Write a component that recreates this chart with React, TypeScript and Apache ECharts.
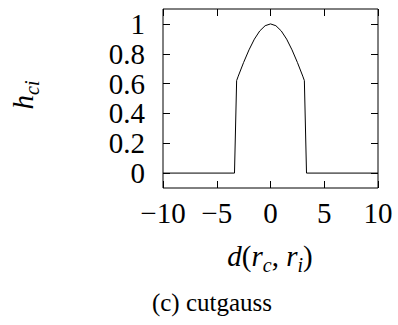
import React, { useEffect, useRef } from "react";
import * as echarts from "echarts";

const distances = [-10, -3.35, -3.15, -3.0, -2.5, -2.0, -1.5, -1.0, -0.5, 0, 0.5, 1.0, 1.5, 2.0, 2.5, 3.0, 3.15, 3.35, 10];
const weights = [0, 0, 0.62, 0.65, 0.742, 0.826, 0.898, 0.953, 0.988, 1.0, 0.988, 0.953, 0.898, 0.826, 0.742, 0.65, 0.62, 0, 0];
const yTicks = [0, 0.2, 0.4, 0.6, 0.8, 1];
const yTickLabels = ["0", "0.2", "0.4", "0.6", "0.8", "1"];
const caption = "(c) cutgauss";

const FONT = "'Liberation Serif', 'Times New Roman', serif";
const FS = 29;

export default function App() {
  const ref = useRef<HTMLDivElement>(null);
  useEffect(() => {
    document.body.style.margin = "0";
    if (!ref.current) return;
    const chart = echarts.init(ref.current, undefined, { renderer: "svg" });
    const labelStyle = { fontFamily: FONT, fontSize: FS, color: "#000" };
    const tick = { show: true, inside: true, length: 7, lineStyle: { color: "#000", width: 1 } };
    const itRich = { fontFamily: FONT, fontSize: FS, fontStyle: "italic", lineHeight: 33, verticalAlign: "top", fill: "#000" };
    const subRich = { fontFamily: FONT, fontSize: 20, fontStyle: "italic", lineHeight: 33, verticalAlign: "bottom", fill: "#000" };
    const rmRich = { fontFamily: FONT, fontSize: FS, lineHeight: 33, verticalAlign: "top", fill: "#000" };
    const option: any = {
      animation: false,
      grid: { left: 163, right: 20, top: 9, bottom: 137, show: true, borderColor: "#000", borderWidth: 1, backgroundColor: "transparent" },
      xAxis: [
        {
          type: "value", min: -10, max: 10, interval: 5, position: "bottom",
          axisLine: { show: false, onZero: false }, splitLine: { show: false }, axisTick: tick,
          axisLabel: { ...labelStyle, margin: 10, formatter: (v: number) => String(v).replace("-", "\u2212") },
        },
        {
          type: "value", min: -10, max: 10, interval: 5, position: "top",
          axisLine: { show: false, onZero: false }, splitLine: { show: false }, axisTick: tick, axisLabel: { show: false },
        },
      ],
      yAxis: [
        {
          type: "value", min: -0.1, max: 1.1, position: "left",
          axisLine: { show: false, onZero: false }, splitLine: { show: false },
          axisTick: { ...tick, customValues: yTicks },
          axisLabel: { ...labelStyle, margin: 18, customValues: yTicks, formatter: (v: number) => yTickLabels[yTicks.findIndex((t) => Math.abs(t - v) < 1e-9)] ?? "" },
        },
        {
          type: "value", min: -0.1, max: 1.1, position: "right",
          axisLine: { show: false, onZero: false }, splitLine: { show: false },
          axisTick: { ...tick, customValues: yTicks }, axisLabel: { show: false },
        },
      ],
      series: [
        {
          type: "line", xAxisIndex: 0, yAxisIndex: 0, showSymbol: false, symbol: "none",
          lineStyle: { color: "#000", width: 1 },
          data: distances.map((d, i) => [d, weights[i]]),
        },
      ],
      graphic: [
        {
          type: "text", x: 270, y: 258.2,
          style: {
            text: "{it|d}{rm|(}{it|r}{sub|c}{rm|, }{it|r}{sub|i}{rm|)}",
            rich: { it: itRich, sub: subRich, rm: rmRich },
            align: "center", verticalAlign: "middle",
          },
        },
        {
          type: "text", x: 25, y: 95, rotation: Math.PI / 2,
          style: {
            text: "{it|h}{sub|ci}",
            rich: { it: itRich, sub: subRich },
            align: "center", verticalAlign: "middle",
          },
        },
        {
          type: "text", x: 212, y: 302.5,
          style: { text: caption, fontFamily: FONT, fontSize: 25, fill: "#000", align: "center", verticalAlign: "middle" },
        },
      ],
    };
    chart.setOption(option);
    return () => chart.dispose();
  }, []);
  return <div ref={ref} style={{ width: 398, height: 325 }} />;
}
